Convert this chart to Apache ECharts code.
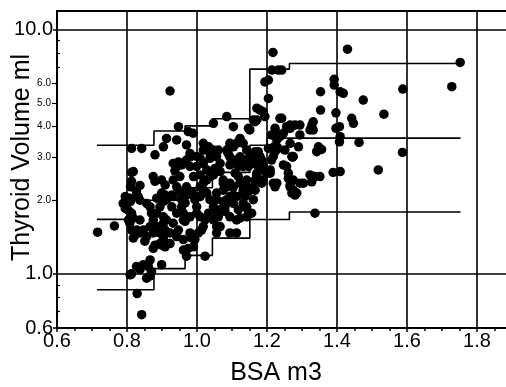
<!DOCTYPE html>
<html><head><meta charset="utf-8">
<script src="https://cdn.jsdelivr.net/npm/echarts@6/dist/echarts.min.js"></script>
<style>html,body{margin:0;padding:0;background:#fff}#c{width:506px;height:387px}</style>
</head><body><div id="c"></div>
<script>
const xTicks = [0.6, 0.8, 1.0, 1.2, 1.4, 1.6, 1.8];
const yMajorLabels = [0.6, 1, 10];
const ySmallLabels = [2, 3, 4, 5, 6];
const yMinorTicks = [0.7, 0.8, 0.9, 7, 8, 9];
const yGridLines = [1, 10];

const stepBsa = [0.714, 0.877, 0.966, 1.044, 1.151, 1.264, 1.753];
const p97 = [3.36, 3.84, 4.03, 4.31, 6.88, 7.26, 7.26];
const p3 = [0.86, 1.05, 1.19, 1.40, 1.667, 1.79, 1.79];
const p50Bsa = [0.714, 0.8, 0.966, 1.044, 1.151, 1.2, 1.753];
const p50 = [1.67, 2.0, 2.25, 2.6, 3.36, 3.59, 3.59];

const scatterPoints = [
[0.716,1.48],[0.764,1.57],[0.842,0.68],[0.829,0.83],[0.923,5.6],[1.217,8.05],[1.43,8.3],[1.752,7.33],[1.728,5.83],[1.588,5.7],
[1.587,3.14],[1.518,2.66],[1.534,4.5],[1.475,5.14],[1.463,3.45],[1.442,4.33],[1.447,4.13],[1.409,2.62],[1.389,2.6],[1.392,6.25],
[1.392,5.92],[1.409,5.56],[1.418,5.48],[1.397,4.56],[1.397,3.94],[1.407,4.0],[1.409,3.64],[1.407,3.47],[1.337,1.77],[1.353,5.56],
[1.353,4.68],[1.332,4.19],[1.328,4.06],[1.332,3.88],[1.347,3.31],[1.356,3.23],[1.342,3.16],[1.323,2.54],[1.337,2.5],[1.351,2.5],
[1.328,2.38],[1.304,2.35],[1.294,2.35],[1.275,2.2],[1.28,2.1],[1.266,2.31],[1.261,2.46],[1.273,3.0],[1.294,3.7],[1.28,4.06],
[1.266,4.06],[1.256,4.0],[1.247,3.76],[1.237,3.64],[1.228,3.53],[1.22,3.31],[1.223,3.16],[1.232,3.26],[1.242,4.33],[1.204,6.21],
[1.194,6.1],[1.204,5.22],[1.214,6.82],[1.232,6.82],[1.242,6.82],[1.171,4.76],[1.18,4.68],[1.189,4.6],[1.194,4.4],[1.171,4.26],
[1.166,4.19],[1.151,3.88],[1.147,3.94],[1.161,4.26],[1.294,4.06],[1.223,3.94],[1.213,3.7],[1.323,3.88],[1.29,3.31],[1.251,3.21],
[1.271,3.02],[1.204,3.26],[1.213,2.92],[1.18,3.02],[1.166,3.16],[1.261,2.58],[1.209,2.58],[1.223,2.27],[1.166,2.2],[1.271,2.14],
[1.218,2.35],[1.247,2.79],[1.275,2.42],[1.17,2.54],
[1.085,4.4],[1.047,4.13],[1.104,4.0],[1.237,4.33],[1.228,3.76],[1.266,3.94],[1.266,3.42],[1.228,3.31],[1.218,3.02],[1.275,3.02],
[0.989,3.76],[1.018,3.42],[1.123,3.53],[1.104,3.31],[1.089,3.11],[1.047,3.21],[1.037,2.97],[0.999,3.02],[0.98,3.11],[1.113,2.92],
[1.161,3.11],[1.171,2.79],[1.132,2.75],[1.094,2.79],[1.066,2.62],[1.037,2.5],[1.009,2.54],[1.018,2.35],[1.075,2.35],[1.142,2.42],
[1.189,2.42],[1.228,2.35],[1.209,2.66],[1.256,2.75],
[0.947,4.0],[0.975,3.82],[0.913,3.58],[0.942,3.53],[0.97,3.37],[0.88,3.07],[0.813,3.26],[0.842,3.26],[0.818,2.62],[0.875,2.5],
[0.899,2.42],[0.932,2.42],[0.947,2.87],[0.98,2.75],[0.809,2.04],[0.837,2.0],[0.885,2.04],[0.932,2.07],[0.97,2.1],[0.956,1.88],
[0.789,1.94],
[0.837,1.66],[0.828,1.51],[0.866,1.56],[0.856,1.42],[0.894,1.47],[0.913,1.66],[0.894,1.33],[0.923,1.33],[0.942,1.42],[0.961,1.66],
[0.98,1.47],[0.961,1.25],[0.999,1.77],[0.97,1.18],[0.866,1.14],[0.847,1.09],[0.837,1.04],[0.809,0.99],[0.899,1.09],[0.866,0.98],
[1.113,1.47],[1.023,1.18],[1.156,1.77],[1.123,1.69],[1.132,1.88],[1.08,1.8],[1.075,1.97],[1.047,2.0],[1.104,2.1],[1.132,2.2],
[1.161,2.27],[1.171,2.42],[1.009,2.27],[0.989,2.1],[1.013,1.51],[0.994,1.38],[1.056,1.56],[1.056,1.77],[1.266,2.27],[1.285,2.14],
[1.094,2.35],
[0.904,3.31],[0.88,2.39],[0.795,2.07],[0.80,2.01],[0.81,1.98],[0.813,2.39],[0.81,2.27],[0.827,2.17],[0.837,2.3],[0.832,2.07],
[0.856,1.94],[0.866,1.88],[0.795,1.85],[0.804,1.82],[0.813,1.77],[0.804,1.66],[0.818,1.69],[0.808,1.61],[0.813,1.51],[0.823,1.44],
[0.818,1.4],[0.837,1.47],[0.847,1.51],[0.851,1.36],[0.87,1.77],[0.875,1.66],[0.885,1.56],[0.875,1.47],[0.88,1.31],[0.875,1.27],
[0.861,1.07],[0.827,1.07],[0.813,1.0],[0.856,0.96],[0.87,1.02],[0.899,2.14],[0.904,1.98],[0.894,1.88],[0.885,1.77],[0.913,2.01],
[0.909,2.1],[0.904,1.71],[0.904,1.61],[0.909,1.51],[0.904,1.4],[0.899,1.31],[0.909,1.29],[0.813,2.6],
[0.932,2.83],[0.942,2.75],[0.937,2.64],[0.956,2.79],[0.909,2.31],[0.942,2.27],[0.951,2.5],[0.961,2.14],[0.956,2.01],[0.966,1.95],
[0.961,1.77],[0.98,1.71],[0.966,1.64],[0.961,1.38],[0.975,1.27],[0.99,1.29],[0.985,1.4],[0.999,1.88],[0.994,2.01],[0.99,2.5],
[0.97,2.27],[0.98,3.01],[0.97,2.92],[0.999,2.75],[0.928,1.88],[0.942,1.77],[0.932,1.61],[0.947,1.51],[0.923,1.47],[0.928,2.1],
[0.985,2.17],[0.951,2.17],
[1.018,1.56],[1.004,1.47],[1.023,1.66],[1.009,1.71],[1.033,1.77],[1.047,1.66],[1.061,1.71],[1.047,1.88],[1.037,2.01],[1.028,2.14],
[1.018,2.2],[1.009,2.07],[1.056,2.01],[1.066,1.83],[1.056,2.14],[1.075,2.2],[1.085,2.27],[1.075,2.42],[1.047,2.54],[1.051,2.7],
[1.066,2.83],[1.056,3.01],[1.061,3.21],[1.085,3.21],[1.094,3.01],[1.094,3.31],[1.009,2.97],[1.018,2.83],[1.028,2.66],[1.028,2.42],
[1.018,3.21],[1.037,3.11],[1.033,3.31],[1.085,2.01],[1.094,2.07],[1.08,1.88],[1.066,1.56],[1.094,1.47],[1.056,1.47],[1.094,1.71],
[1.123,3.58],[1.113,3.42],[1.123,3.01],[1.118,2.75],[1.109,2.58],[1.118,2.5],[1.123,2.35],[1.104,2.27],[1.113,2.07],[1.104,1.94],
[1.118,1.83],[1.113,1.66],[1.142,1.71],[1.147,1.77],[1.142,1.88],[1.132,1.94],[1.128,2.1],[1.137,2.07],[1.147,2.17],[1.142,2.27],
[1.166,2.42],[1.171,2.58],[1.18,2.66],[1.19,2.75],[1.185,2.92],[1.171,3.06],[1.161,2.92],[1.151,3.01],[1.147,2.75],[1.137,2.92],
[1.142,3.21],[1.132,3.42],[1.18,2.42],[1.185,2.35],[1.161,2.01],[1.199,2.58],[1.175,3.16],[1.094,3.42]
];

const FONT = 'Liberation Sans, Arial, Helvetica, sans-serif';
const X_MIN = 0.6, X_MAX = 2.0, Y_MIN = 0.6, Y_MAX = 11.9;
const fmt1 = v => Number(v).toFixed(1);

function zip(xs, ys) { return xs.map((x, i) => [x, ys[i]]); }

const stepLine = (name, xs, ys) => ({
  name, type: 'line', step: 'end', data: zip(xs, ys),
  showSymbol: false, symbol: 'none', silent: true,
  lineStyle: { color: '#000', width: 1.6 }, z: 3
});

const chart = echarts.init(document.getElementById('c'), null, { renderer: 'canvas' });
chart.setOption({
  animation: false,
  backgroundColor: '#fff',
  grid: { left: 57, top: 11, right: -41, bottom: 59, containLabel: false, outerBoundsMode: 'none' },
  xAxis: [{
    type: 'value', min: X_MIN, max: X_MAX, interval: 0.2,
    name: 'BSA m3', nameLocation: 'middle', nameGap: 33, nameMoveOverlap: false,
    nameTextStyle: { fontFamily: FONT, fontSize: 25, color: '#000', padding: [0, 52, 0, 0] },
    axisLine: { show: true, lineStyle: { color: '#000', width: 2 } },
    axisTick: { show: true, inside: false, length: 4, lineStyle: { color: '#000', width: 1.5 } },
    minorTick: { show: true, splitNumber: 4, length: 3, lineStyle: { color: '#000', width: 1.5 } },
    axisLabel: { fontFamily: FONT, fontSize: 20, color: '#000', margin: 3, formatter: fmt1, customValues: xTicks },
    splitLine: { show: true, lineStyle: { color: '#000', width: 1.6 } }
  }, {
    type: 'value', position: 'top', min: X_MIN, max: X_MAX,
    axisLine: { show: true, lineStyle: { color: '#000', width: 2 } },
    axisTick: { show: false }, axisLabel: { show: false }, splitLine: { show: false }
  }],
  yAxis: [{
    type: 'log', logBase: 10, min: Y_MIN, max: Y_MAX,
    name: 'Thyroid Volume ml', nameLocation: 'middle', nameGap: 22, nameRotate: 90, nameMoveOverlap: false,
    nameTextStyle: { fontFamily: FONT, fontSize: 25, color: '#000', padding: [0, 0, 0, 24] },
    axisLine: { show: true, lineStyle: { color: '#000', width: 2 } },
    axisTick: { show: true, length: 4, customValues: yMajorLabels, lineStyle: { color: '#000', width: 1.5 } },
    axisLabel: { fontFamily: FONT, fontSize: 20, color: '#000', margin: 4, formatter: fmt1, customValues: yMajorLabels },
    splitLine: { show: false }, minorTick: { show: false }
  }, {
    type: 'log', logBase: 10, min: Y_MIN, max: Y_MAX, position: 'left',
    axisLine: { show: false },
    axisTick: { show: true, length: 5, customValues: ySmallLabels, lineStyle: { color: '#000', width: 1.2 } },
    axisLabel: { fontFamily: FONT, fontSize: 10, color: '#000', margin: 6, formatter: fmt1, customValues: ySmallLabels },
    splitLine: { show: false }
  }, {
    type: 'log', logBase: 10, min: Y_MIN, max: Y_MAX, position: 'left',
    axisLine: { show: false },
    axisTick: { show: true, inside: true, length: 3, customValues: yMinorTicks, lineStyle: { color: '#000', width: 1.2 } },
    axisLabel: { show: false },
    splitLine: { show: false }
  }],
  series: [
    {
      name: 'data', type: 'scatter', data: scatterPoints, symbol: 'circle', symbolSize: 9.5,
      itemStyle: { color: '#000', opacity: 1 }, z: 4, silent: true,
      markLine: {
        silent: true, symbol: ['none', 'none'], label: { show: false },
        lineStyle: { color: '#000', width: 1.6, type: 'solid' },
        data: yGridLines.map(v => ({ yAxis: v }))
      }
    },
    stepLine('P97', stepBsa, p97),
    stepLine('P50', p50Bsa, p50),
    stepLine('P3', stepBsa, p3)
  ]
});
</script></body></html>
